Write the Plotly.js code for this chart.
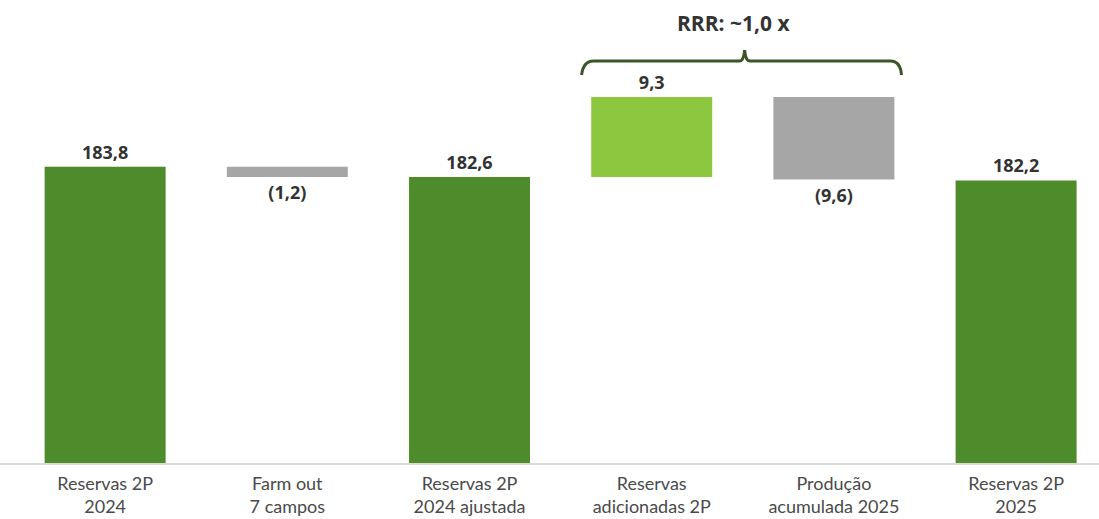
<!DOCTYPE html>
<html>
<head>
<meta charset="utf-8">
<script src="https://cdn.plot.ly/plotly-3.0.1.min.js"></script>
<style>html,body{margin:0;padding:0;background:#fff;}#chart{width:1099px;height:519px;}</style>
</head>
<body>
<div id="chart"></div>
<script>
const categories = ["Reservas 2P<br>2024", "Farm out<br>7 campos", "Reservas 2P<br>2024 ajustada", "Reservas<br>adicionadas 2P", "Produção<br>acumulada 2025", "Reservas 2P<br>2025"];
const values = [183.8, -1.2, 182.6, 9.3, -9.6, 182.2];
const measures = ["absolute", "relative", "absolute", "relative", "relative", "absolute"];
const rrrLabel = "RRR: ~1,0 x";

function fmt(v) {
  const s = Math.abs(v).toFixed(1).replace('.', ',');
  return v < 0 ? '(' + s + ')' : s;
}
const labels = values.map(fmt);

const trace = {
  type: 'waterfall',
  x: categories,
  y: values,
  measure: measures,
  text: labels,
  textinfo: 'text',
  textposition: 'outside',
  cliponaxis: false,
  textfont: {family: 'Open Sans', size: 18, color: '#333333', weight: 'bold'},
  width: 0.664,
  connector: {visible: false},
  totals: {marker: {color: '#4e8b2a'}},
  increasing: {marker: {color: '#8dc63f'}},
  decreasing: {marker: {color: '#a6a6a6'}},
  hoverinfo: 'skip'
};

const layout = {
  width: 1099, height: 519,
  margin: {l: 0, r: 0, t: 0, b: 56},
  paper_bgcolor: '#ffffff', plot_bgcolor: '#ffffff',
  showlegend: false,
  xaxis: {
    type: 'category',
    showline: true, linecolor: '#d9d9d9', linewidth: 2,
    showgrid: false, zeroline: false, ticks: '',
    ticklabelstandoff: 3,
    tickfont: {family: 'Lato', size: 18, color: '#4a4a4a'},
    range: [-0.577, 5.455]
  },
  yaxis: {visible: false, range: [149.34, 203.18], showgrid: false, zeroline: false},
  shapes: [{
    type: 'path', xref: 'x', yref: 'paper',
    path: 'M 2.615,0.838 Q 2.625,0.868 2.68,0.868 L 3.48,0.868 Q 3.505,0.868 3.51,0.892 Q 3.515,0.868 3.54,0.868 L 4.31,0.868 Q 4.365,0.868 4.371,0.838',
    line: {color: '#3d5526', width: 3}
  }],
  annotations: [{
    x: 3.449, y: 0.951, xref: 'x', yref: 'paper', xanchor: 'center', yanchor: 'middle',
    text: '<b>' + rrrLabel + '</b>', showarrow: false,
    font: {family: 'Open Sans', size: 21, color: '#333333'}
  }]
};

Plotly.newPlot('chart', [trace], layout, {displayModeBar: false, staticPlot: true});
</script>
</body>
</html>
